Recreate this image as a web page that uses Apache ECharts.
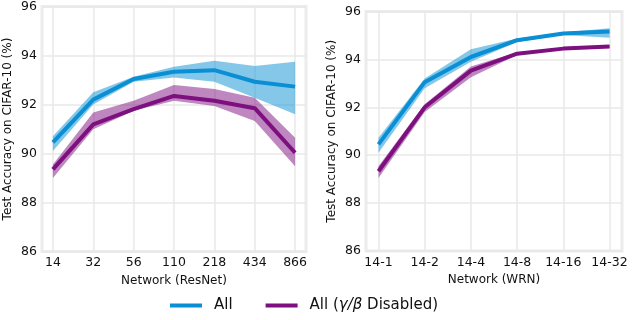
<!DOCTYPE html>
<html>
<head>
    <meta charset="UTF-8">
    <script src="https://cdn.jsdelivr.net/npm/echarts@6/dist/echarts.min.js"></script>
    <style>
        html, body { margin: 0; padding: 0; background: #fff; }
        #container { width: 634px; height: 320px; }
    </style>
</head>
<body>
<div id="container"></div>
<script type="text/javascript">
    // ResNet depth (left panel)
    var resnetLabels = ['14', '32', '56', '110', '218', '434', '866'];
    var resnetAll = [90.45, 92.2, 93.04, 93.34, 93.4, 92.93, 92.73];
    var resnetAllLow = [90.1, 92.0, 92.93, 93.1, 92.93, 92.28, 91.6];
    var resnetAllHigh = [90.7, 92.5, 93.13, 93.54, 93.79, 93.57, 93.75];
    var resnetOff = [89.35, 91.19, 91.81, 92.35, 92.15, 91.85, 90.03];
    var resnetOffLow = [89.0, 90.99, 91.74, 92.15, 91.94, 91.33, 89.48];
    var resnetOffHigh = [89.55, 91.67, 92.15, 92.8, 92.63, 92.28, 90.64];

    // WRN width (right panel)
    var wrnLabels = ['14-1', '14-2', '14-4', '14-8', '14-16', '14-32'];
    var wrnAll = [90.45, 93.05, 94.1, 94.8, 95.08, 95.17];
    var wrnAllLow = [90.1, 92.8, 93.9, 94.73, 95.02, 94.9];
    var wrnAllHigh = [90.73, 93.2, 94.42, 94.87, 95.13, 95.3];
    var wrnOff = [89.33, 92.0, 93.53, 94.24, 94.45, 94.54];
    var wrnOffLow = [89.05, 91.8, 93.25, 94.18, 94.4, 94.48];
    var wrnOffHigh = [89.54, 92.13, 93.7, 94.3, 94.5, 94.6];

    var blue = '#0a8fd4';
    var purple = '#7d0f7f';
    var font = 'DejaVu Sans';

    function pts(arr) {
        return arr.map(function (v, i) { return [i, v]; });
    }

    // shaded spread drawn as one polygon through the axis scales
    function band(idx, lo, hi, color) {
        var rows = lo.map(function (v, i) { return [i, v, hi[i]]; });
        return {
            type: 'custom', xAxisIndex: idx, yAxisIndex: idx, silent: true, z: 2,
            data: rows,
            encode: { x: 0, y: [1, 2] },
            renderItem: function (params, api) {
                if (params.dataIndex !== 0) return;
                var top = [], bottom = [];
                rows.forEach(function (r) {
                    top.push(api.coord([r[0], r[2]]));
                    bottom.unshift(api.coord([r[0], r[1]]));
                });
                return {
                    type: 'polygon',
                    shape: { points: top.concat(bottom) },
                    style: { fill: color, opacity: 0.5 }
                };
            }
        };
    }

    function line(idx, name, vals, color) {
        return {
            type: 'line', name: name, xAxisIndex: idx, yAxisIndex: idx,
            data: pts(vals), symbol: 'none', z: 5,
            lineStyle: { color: color, width: 4 },
            itemStyle: { color: color }
        };
    }

    function xAxis(idx, labels, title) {
        var ticks = labels.map(function (l, i) { return i; });
        return {
            type: 'value', gridIndex: idx,
            min: -0.27, max: labels.length - 1 + 0.27,
            name: title, nameLocation: 'middle', nameGap: 22,
            nameTextStyle: { fontFamily: font, fontSize: 12, color: '#111' },
            axisLine: { show: false },
            axisTick: { show: false, customValues: ticks },
            axisLabel: {
                customValues: ticks, fontFamily: font, fontSize: 12.5, color: '#111', margin: 5,
                formatter: function (v) { return labels[Math.round(v)]; }
            },
            splitLine: { show: true, lineStyle: { color: '#e8e8e8', width: 1.5 } }
        };
    }

    function yAxis(idx) {
        return {
            type: 'value', gridIndex: idx, min: 86, max: 96, interval: 2,
            name: 'Test Accuracy on CIFAR-10 (%)', nameLocation: 'middle', nameGap: 28,
            nameTextStyle: { fontFamily: font, fontSize: 12, color: '#111' },
            axisLine: { show: false },
            axisTick: { show: false },
            axisLabel: { fontFamily: font, fontSize: 12.5, color: '#111', margin: 5 },
            splitLine: { show: true, lineStyle: { color: '#e8e8e8', width: 1.5 } }
        };
    }

    var dom = document.getElementById('container');
    var myChart = echarts.init(dom, null, { renderer: 'canvas' });

    var option = {
        animation: false,
        backgroundColor: '#fff',
        legend: {
            data: ['All', 'All (γ/β Disabled)'],
            bottom: 2, left: 165,
            itemWidth: 32, itemHeight: 4, itemGap: 33,
            icon: 'rect',
            formatter: function (name) {
                if (name === 'All') return '{t|All}';
                return '{t|All (}{i|γ/β}{t| Disabled)}';
            },
            textStyle: {
                fontFamily: font, fontSize: 15, color: '#111', padding: [0, 0, 0, 7],
                rich: {
                    t: { fontFamily: font, fontSize: 15, color: '#111' },
                    i: { fontFamily: font, fontSize: 15, color: '#111', fontStyle: 'italic' }
                }
            }
        },
        grid: [
            { left: 42, right: 328, top: 5.5, bottom: 68.5, show: true, borderColor: '#ececec', borderWidth: 3 },
            { left: 366, right: 12, top: 11.5, bottom: 69, show: true, borderColor: '#ececec', borderWidth: 3 }
        ],
        xAxis: [xAxis(0, resnetLabels, 'Network (ResNet)'), xAxis(1, wrnLabels, 'Network (WRN)')],
        yAxis: [yAxis(0), yAxis(1)],
        series: [
            band(0, resnetAllLow, resnetAllHigh, blue),
            band(0, resnetOffLow, resnetOffHigh, purple),
            band(1, wrnAllLow, wrnAllHigh, blue),
            band(1, wrnOffLow, wrnOffHigh, purple),
            line(0, 'All', resnetAll, blue),
            line(0, 'All (γ/β Disabled)', resnetOff, purple),
            line(1, 'All', wrnAll, blue),
            line(1, 'All (γ/β Disabled)', wrnOff, purple)
        ]
    };

    myChart.setOption(option);
    window.addEventListener('resize', myChart.resize);
</script>
</body>
</html>
